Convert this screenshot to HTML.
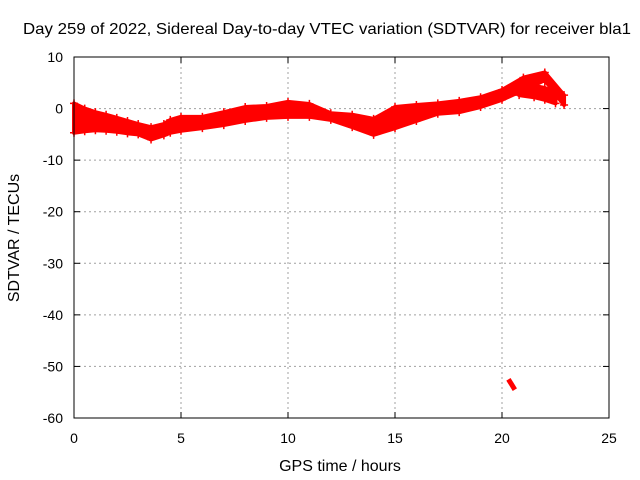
<!DOCTYPE html>
<html><head><meta charset="utf-8"><style>
body{margin:0;background:#fff}
svg{display:block;font-family:"Liberation Sans",sans-serif;font-size:14px}
</style></head><body>
<svg id="c" width="640" height="480">
<text x="327" y="34" text-anchor="middle" font-size="16" textLength="608" lengthAdjust="spacingAndGlyphs">Day 259 of 2022, Sidereal Day-to-day VTEC variation (SDTVAR) for receiver bla1</text>
<text x="340" y="471" text-anchor="middle" font-size="16">GPS time / hours</text>
<text transform="translate(19,238) rotate(-90)" text-anchor="middle" font-size="16">SDTVAR / TECUs</text>
<g id="grid"></g><g id="ticks"></g><g id="marks"></g>
<rect x="74" y="57" width="535" height="361" fill="none" stroke="#000"/>
</svg>
<script>
const xTicks=[0,5,10,15,20,25];
const yTicks=[-60,-50,-40,-30,-20,-10,0,10];
const times=[0,0.5,1,1.5,2,2.5,3,3.6,4.2,4.5,5,6,7,8,9,10,11,12,13,14,15,16,17,18,19,20,21,22,22.9];
const upper=[1,0,-0.7,-1.2,-1.8,-2.4,-3,-3.6,-3,-2.2,-1.6,-1.6,-0.7,0.3,0.5,1.3,0.9,-0.9,-1.2,-2,0.3,0.7,1,1.5,2.2,3.6,6,7,2.6];
const lower=[-4.7,-4.4,-4.2,-4.3,-4.5,-4.8,-5,-6,-5.2,-4.7,-4.3,-3.8,-3.2,-2.4,-1.8,-1.6,-1.6,-2.2,-3.6,-5.1,-3.8,-2.4,-1,-0.7,0.3,1.7,3.6,5.5,0.7];
const branchTimes=[20.8,21.5,22,22.5];
const branchUpper=[4.6,4.4,4,3];
const branchLower=[2.6,2.2,1.7,1];
const outlierTimes=[20.3,20.45,20.6];
const outlierValues=[-52.5,-53.5,-54.5];
const X=t=>74+t*535/25, Y=v=>57+(10-v)*361/70;
const NS='http://www.w3.org/2000/svg';
function mk(tag,at,parent){const e=document.createElementNS(NS,tag);for(const k in at)e.setAttribute(k,at[k]);parent.appendChild(e);return e;}
const grid=document.getElementById('grid'),ticks=document.getElementById('ticks'),marks=document.getElementById('marks');
xTicks.forEach(t=>{
 if(t>0&&t<25){const g=mk('line',{x1:X(t),x2:X(t),y1:57,y2:418,stroke:'#a0a0a0','stroke-dasharray':'2,3'},grid);
 
 }
 mk('line',{x1:X(t),x2:X(t),y1:418,y2:412,stroke:'#000'},ticks);
 mk('line',{x1:X(t),x2:X(t),y1:57,y2:63,stroke:'#000'},ticks);
 const l=mk('text',{x:X(t),y:443,'text-anchor':'middle'},ticks);l.textContent=t;
 
 
});
yTicks.forEach(v=>{
 if(v>-60&&v<10){const g=mk('line',{x1:74,x2:609,y1:Y(v),y2:Y(v),stroke:'#a0a0a0','stroke-dasharray':'2,3'},grid);
 
 }
 mk('line',{x1:74,x2:80,y1:Y(v),y2:Y(v),stroke:'#000'},ticks);
 mk('line',{x1:603,x2:609,y1:Y(v),y2:Y(v),stroke:'#000'},ticks);
 const l=mk('text',{x:63,y:Y(v)+5,'text-anchor':'end'},ticks);l.textContent=v;
 
 
});
function band(ts,up,lo,name){
 let pts=ts.map((t,i)=>X(t)+','+Y(up[i]));
 for(let i=ts.length-1;i>=0;i--)pts.push(X(ts[i])+','+Y(lo[i]));
 const p=mk('polygon',{points:pts.join(' '),fill:'#f00',stroke:'#f00','stroke-width':4,'stroke-linejoin':'round'},marks);
 
 
 ts.forEach((t,i)=>{[up[i],lo[i]].forEach(v=>{
  mk('path',{d:`M${X(t)-4},${Y(v)}h8M${X(t)},${Y(v)-4}v8`,stroke:'#f00','stroke-width':1.5},marks);
 });});
}
band(times,upper,lower,'sdtvar-band');
band(branchTimes,branchUpper,branchLower,'sdtvar-lower-branch');
const o=mk('polyline',{points:outlierTimes.map((t,i)=>X(t)+','+Y(outlierValues[i])).join(' '),fill:'none',stroke:'#f00','stroke-width':5},marks);


</script>
</body></html>
